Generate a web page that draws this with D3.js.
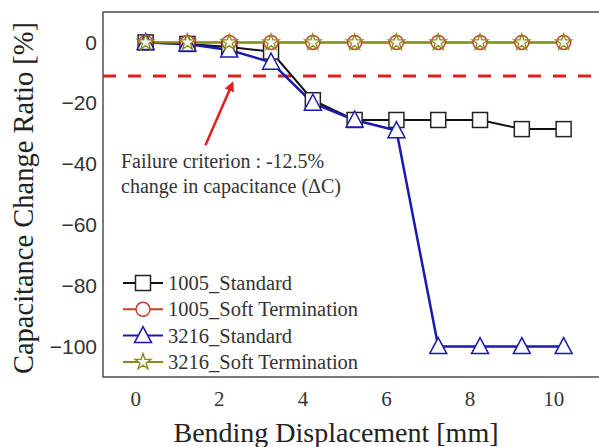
<!DOCTYPE html>
<html>
<head>
<meta charset="utf-8">
<script src="https://cdn.jsdelivr.net/npm/d3@7"></script>
<style>
  body { margin: 0; background: #fff; }
  svg { display: block; }
</style>
</head>
<body>
<div id="chart"></div>
<script>
// values
const displacement = [0.25, 1.25, 2.25, 3.25, 4.25, 5.25, 6.25, 7.25, 8.25, 9.25, 10.25];
const std1005 = [0, -0.5, -1.5, -3, -19, -25.5, -25.5, -25.5, -25.5, -28.5, -28.5];
const soft1005 = [0, 0, 0, 0, 0, 0, 0, 0, 0, 0, 0];
const std3216 = [0, -0.5, -2.5, -6.5, -20, -25.5, -29, -100, -100, -100, -100];
const soft3216 = [0, 0, 0, 0, 0, 0, 0, 0, 0, 0, 0];
const xTicks = [0, 2, 4, 6, 8, 10];
const yTicks = [0, -20, -40, -60, -80, -100];
const criterion = -11;
const arrowFrom = [1.68, -33.8];
const arrowTo = [2.3, -14.3];

const series = [
  { name: '1005_Standard', values: std1005, color: '#111', marker: 'square' },
  { name: '1005_Soft Termination', values: soft1005, color: '#c8402c', marker: 'circle' },
  { name: '3216_Standard', values: std3216, color: '#1a1ab0', marker: 'triangle' },
  { name: '3216_Soft Termination', values: soft3216, color: '#8a8a18', marker: 'star' }
];

const W = 599, H = 447;
const plotL = 103, plotT = 12, plotB = 377, plotR = 600;

const svg = d3.select('#chart').append('svg')
  .attr('width', W).attr('height', H);

const x = d3.scaleLinear().domain([-0.77, 11.12]).range([plotL, plotR]);
const y = d3.scaleLinear().domain([-110, 10]).range([plotB, plotT]);

const serif = "'Liberation Serif', serif";
const sans = "'Liberation Sans', sans-serif";

// frame
svg.append('rect')
  .attr('x', plotL).attr('y', plotT)
  .attr('width', plotR - plotL).attr('height', plotB - plotT)
  .attr('fill', 'none').attr('stroke', '#333').attr('stroke-width', 1.3);

// axes (labels only, no tick marks)
const xAxis = svg.append('g')
  .attr('transform', 'translate(0,' + plotB + ')')
  .call(d3.axisBottom(x).tickValues(xTicks).tickSize(0).tickPadding(14));
xAxis.selectAll('.tick text')
  .attr('font-family', serif).attr('font-size', 21).attr('fill', '#333');

const yAxis = svg.append('g')
  .attr('transform', 'translate(' + plotL + ',0)')
  .call(d3.axisLeft(y).tickValues(yTicks).tickSize(0).tickPadding(6));
yAxis.selectAll('.tick text')
  .attr('font-family', sans).attr('font-size', 21).attr('fill', '#333');

svg.selectAll('.domain').remove();

svg.append('text')
  .attr('x', 336).attr('y', 442)
  .attr('text-anchor', 'middle')
  .attr('font-family', serif).attr('font-size', 28).attr('fill', '#222')
  .text('Bending Displacement [mm]');

svg.append('text')
  .attr('transform', 'translate(33,' + 198 + ') rotate(-90)')
  .attr('text-anchor', 'middle')
  .attr('font-family', serif).attr('font-size', 28.5).attr('fill', '#222')
  .text('Capacitance Change Ratio [%]');

// failure criterion
svg.append('line')
  .attr('x1', plotL).attr('x2', plotR)
  .attr('y1', y(criterion)).attr('y2', y(criterion))
  .attr('stroke', '#e02020').attr('stroke-width', 3)
  .attr('stroke-dasharray', '13,12');

svg.append('defs').append('marker')
  .attr('id', 'arrowhead')
  .attr('viewBox', '0 0 10 10')
  .attr('refX', 5).attr('refY', 5)
  .attr('markerWidth', 4).attr('markerHeight', 4)
  .attr('orient', 'auto')
  .append('path')
  .attr('d', 'M0,0L10,5L0,10z')
  .attr('fill', '#e02020');

svg.append('line')
  .attr('x1', x(arrowFrom[0])).attr('y1', y(arrowFrom[1]))
  .attr('x2', x(arrowTo[0])).attr('y2', y(arrowTo[1]))
  .attr('stroke', '#e02020').attr('stroke-width', 2.5)
  .attr('marker-end', 'url(#arrowhead)');

const note = svg.append('text')
  .attr('font-family', serif).attr('font-size', 20).attr('fill', '#333');
note.append('tspan').attr('x', 121).attr('y', 168).text('Failure criterion : -12.5%');
note.append('tspan').attr('x', 121).attr('y', 193).text('change in capacitance (\u0394C)');

// markers
const starPath = d3.symbol().type(d3.symbolStar).size(80)();
function drawMarker(g, type, color) {
  if (type === 'square') {
    g.append('rect').attr('x', -7.5).attr('y', -7.5).attr('width', 15).attr('height', 15)
      .attr('fill', '#fff').attr('stroke', '#222').attr('stroke-width', 1.5);
  } else if (type === 'circle') {
    g.append('circle').attr('r', 7)
      .attr('fill', '#fff').attr('stroke', color).attr('stroke-width', 1.5);
  } else if (type === 'triangle') {
    g.append('path').attr('d', 'M0,-9L8.5,7L-8.5,7Z')
      .attr('fill', '#fff').attr('stroke', color).attr('stroke-width', 1.5);
  } else {
    g.append('path').attr('d', starPath)
      .attr('fill', '#fff').attr('stroke', color).attr('stroke-width', 1.3);
  }
}

const line = d3.line()
  .x((d, i) => x(displacement[i]))
  .y(d => y(d));

series.forEach(s => {
  svg.append('path')
    .datum(s.values)
    .attr('d', line)
    .attr('fill', 'none')
    .attr('stroke', s.color)
    .attr('stroke-width', s.marker === 'triangle' ? 2.5 : 2);
});

series.forEach(s => {
  s.values.forEach((v, i) => {
    const g = svg.append('g')
      .attr('transform', 'translate(' + x(displacement[i]) + ',' + y(v) + ')');
    drawMarker(g, s.marker, s.color);
  });
});

// legend
const legend = svg.append('g').attr('transform', 'translate(123,283)');
series.forEach((s, i) => {
  const g = legend.append('g').attr('transform', 'translate(0,' + (i * 26.3) + ')');
  g.append('line').attr('x1', 0).attr('x2', 40).attr('y1', 0).attr('y2', 0)
    .attr('stroke', s.color).attr('stroke-width', 2);
  const m = g.append('g').attr('transform', 'translate(20,0)');
  drawMarker(m, s.marker, s.color);
  g.append('text')
    .attr('x', 45).attr('y', 7)
    .attr('font-family', serif).attr('font-size', 20.5).attr('fill', '#333')
    .text(s.name);
});
</script>
</body>
</html>
